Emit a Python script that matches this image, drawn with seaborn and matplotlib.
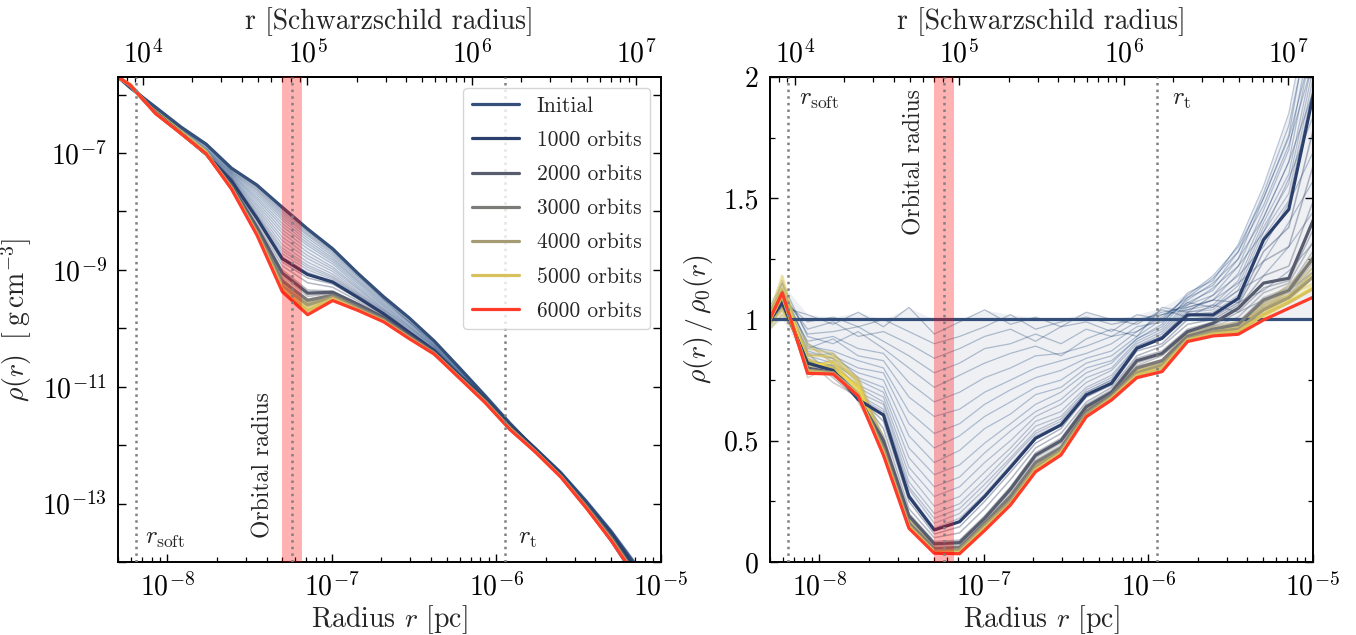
import numpy as np
import matplotlib
matplotlib.use("Agg")
import matplotlib.pyplot as plt
import matplotlib.ticker as mticker
import seaborn as sns

# ------------------------------
# style: LaTeX-like look with the bundled Computer Modern fonts
# ------------------------------
sns.set_style("ticks")
plt.rcParams['font.family'] = ['cmr10', 'DejaVu Serif']
plt.rcParams['mathtext.fontset'] = 'cm'
plt.rcParams['axes.formatter.use_mathtext'] = True
plt.rcParams['axes.unicode_minus'] = False
plt.rcParams['axes.linewidth'] = 1.4
plt.rcParams['axes.edgecolor'] = 'black'
plt.rcParams['xtick.color'] = 'black'
plt.rcParams['ytick.color'] = 'black'

# ------------------------------
# data
# ------------------------------
# radial bins [pc]
radius_pc = [4.17e-9, 5.94e-9, 8.47e-9, 1.21e-8, 1.72e-8, 2.45e-8, 3.50e-8,
             4.99e-8, 7.11e-8, 1.01e-7, 1.45e-7, 2.06e-7, 2.94e-7, 4.19e-7,
             5.97e-7, 8.51e-7, 1.21e-6, 1.73e-6, 2.47e-6, 3.52e-6, 5.01e-6,
             7.14e-6, 1.02e-5]

# initial density profile, log10(rho0 / g cm^-3)
log_rho0 = [-5.50, -5.885, -6.217, -6.557, -6.85, -7.26, -7.55, -7.93, -8.30,
            -8.64, -9.07, -9.46, -9.82, -10.22, -10.68, -11.15, -11.63, -12.08,
            -12.52, -13.05, -13.64, -14.30, -14.95]

# rho / rho0 for the highlighted snapshots
ratio_1000 = [0.92, 1.07, 0.82, 0.79, 0.67, 0.606, 0.27, 0.132, 0.166, 0.27, 0.39,
              0.51, 0.565, 0.689, 0.737, 0.881, 0.922, 1.019, 1.019, 1.087, 1.328,
              1.454, 1.946]
ratio_2000 = [0.91, 1.09, 0.80, 0.78, 0.68, 0.50, 0.19, 0.075, 0.08, 0.18, 0.30,
              0.44, 0.50, 0.64, 0.70, 0.83, 0.86, 0.95, 0.984, 1.046, 1.15, 1.17, 1.42]
ratio_3000 = [0.90, 1.10, 0.79, 0.78, 0.69, 0.47, 0.16, 0.055, 0.06, 0.16, 0.27,
              0.41, 0.47, 0.62, 0.69, 0.80, 0.83, 0.93, 0.96, 0.98, 1.08, 1.12, 1.26]
ratio_4000 = [0.90, 1.10, 0.79, 0.78, 0.69, 0.46, 0.15, 0.045, 0.05, 0.15, 0.25,
              0.39, 0.46, 0.61, 0.68, 0.78, 0.81, 0.92, 0.95, 0.96, 1.04, 1.09, 1.18]
ratio_5000 = [0.89, 1.10, 0.785, 0.775, 0.69, 0.45, 0.145, 0.04, 0.04, 0.14, 0.24,
              0.38, 0.45, 0.60, 0.675, 0.77, 0.80, 0.915, 0.94, 0.95, 1.02, 1.07, 1.13]
ratio_6000 = [0.89, 1.11, 0.778, 0.775, 0.685, 0.44, 0.139, 0.036, 0.034, 0.13, 0.235,
              0.372, 0.441, 0.599, 0.668, 0.76, 0.785, 0.909, 0.932, 0.939, 0.998,
              1.046, 1.094]

# faint intermediate snapshots (orbits, rho / rho0)
thin_orbits = [100, 150, 200, 250, 300, 350, 400, 450, 500, 550, 600, 650,
               700, 750, 800, 850, 900, 950,
               1200, 1500, 1800, 2200, 2500, 2800, 3200, 3500, 3800,
               4200, 4500, 4600, 4800, 5200, 5400, 5500, 5800, 5900]
thin_ratio = [
    [0.99, 1.05, 1.02, 0.98, 1.03, 0.97, 1.05, 0.94, 0.99, 1.04, 0.98, 1.01, 0.97, 1.03, 1.00, 0.98, 1.04, 1.01, 1.06, 1.03, 1.08, 1.12, 1.20],
    [0.98, 1.08, 0.99, 1.01, 0.97, 1.00, 0.95, 0.90, 0.93, 0.97, 1.02, 0.96, 0.99, 1.01, 0.98, 1.00, 1.02, 1.04, 1.08, 1.07, 1.12, 1.20, 1.32],
    [0.97, 1.10, 0.96, 0.99, 0.93, 0.95, 0.90, 0.84, 0.88, 0.93, 0.96, 0.91, 0.97, 0.99, 0.95, 1.02, 1.00, 1.07, 1.05, 1.12, 1.18, 1.30, 1.45],
    [0.96, 1.12, 0.94, 0.95, 0.97, 0.91, 0.85, 0.78, 0.82, 0.88, 0.90, 0.94, 0.90, 0.96, 0.93, 0.99, 1.03, 1.05, 1.08, 1.15, 1.24, 1.40, 1.58],
    [0.95, 1.15, 0.93, 0.90, 0.95, 0.88, 0.80, 0.72, 0.77, 0.82, 0.86, 0.89, 0.85, 0.92, 0.96, 0.93, 1.05, 1.03, 1.10, 1.18, 1.30, 1.48, 1.70],
    [0.95, 1.10, 0.91, 0.93, 0.88, 0.86, 0.74, 0.66, 0.70, 0.76, 0.80, 0.85, 0.86, 0.89, 0.93, 0.95, 1.02, 1.06, 1.13, 1.22, 1.36, 1.58, 1.85],
    [0.96, 1.08, 0.88, 0.92, 0.85, 0.83, 0.68, 0.60, 0.63, 0.70, 0.75, 0.80, 0.83, 0.86, 0.90, 0.97, 0.99, 1.08, 1.15, 1.25, 1.42, 1.65, 1.95],
    [0.94, 1.13, 0.89, 0.87, 0.83, 0.80, 0.62, 0.53, 0.57, 0.65, 0.71, 0.76, 0.79, 0.84, 0.87, 0.95, 1.01, 1.09, 1.17, 1.28, 1.47, 1.72, 2.08],
    [0.93, 1.12, 0.90, 0.85, 0.80, 0.78, 0.57, 0.47, 0.52, 0.60, 0.66, 0.72, 0.75, 0.82, 0.85, 0.93, 1.00, 1.10, 1.18, 1.30, 1.50, 1.75, 2.15],
    [0.93, 1.07, 0.87, 0.84, 0.78, 0.75, 0.52, 0.41, 0.46, 0.55, 0.61, 0.69, 0.72, 0.80, 0.83, 0.92, 0.98, 1.11, 1.16, 1.31, 1.55, 1.85, 2.40],
    [0.94, 1.06, 0.85, 0.86, 0.76, 0.72, 0.47, 0.36, 0.40, 0.49, 0.57, 0.65, 0.70, 0.78, 0.82, 0.92, 0.97, 1.09, 1.14, 1.28, 1.52, 1.80, 2.30],
    [0.93, 1.10, 0.85, 0.82, 0.75, 0.70, 0.43, 0.31, 0.35, 0.45, 0.54, 0.62, 0.67, 0.76, 0.80, 0.91, 0.96, 1.07, 1.12, 1.25, 1.50, 1.76, 2.35],
    [0.92, 1.09, 0.84, 0.80, 0.73, 0.68, 0.39, 0.27, 0.31, 0.41, 0.50, 0.60, 0.65, 0.74, 0.79, 0.90, 0.95, 1.06, 1.10, 1.22, 1.45, 1.70, 2.25],
    [0.92, 1.06, 0.83, 0.81, 0.72, 0.66, 0.36, 0.23, 0.27, 0.37, 0.47, 0.58, 0.62, 0.72, 0.77, 0.89, 0.94, 1.05, 1.08, 1.19, 1.42, 1.65, 2.18],
    [0.93, 1.07, 0.83, 0.81, 0.70, 0.65, 0.33, 0.20, 0.24, 0.34, 0.45, 0.56, 0.60, 0.71, 0.76, 0.89, 0.93, 1.04, 1.06, 1.16, 1.40, 1.60, 2.10],
    [0.92, 1.09, 0.82, 0.80, 0.69, 0.63, 0.31, 0.18, 0.22, 0.32, 0.43, 0.54, 0.59, 0.70, 0.75, 0.88, 0.93, 1.03, 1.05, 1.14, 1.38, 1.56, 2.06],
    [0.92, 1.08, 0.82, 0.80, 0.68, 0.62, 0.30, 0.16, 0.20, 0.30, 0.42, 0.53, 0.58, 0.70, 0.75, 0.88, 0.93, 1.03, 1.04, 1.12, 1.36, 1.52, 2.02],
    [0.92, 1.07, 0.82, 0.79, 0.67, 0.61, 0.28, 0.14, 0.18, 0.28, 0.40, 0.52, 0.57, 0.69, 0.74, 0.88, 0.92, 1.02, 1.03, 1.10, 1.34, 1.49, 1.98],
    [0.91, 1.06, 0.82, 0.80, 0.68, 0.58, 0.25, 0.115, 0.145, 0.25, 0.37, 0.49, 0.55, 0.68, 0.73, 0.87, 0.90, 1.00, 1.01, 1.07, 1.28, 1.38, 1.80],
    [0.91, 1.05, 0.83, 0.80, 0.69, 0.55, 0.22, 0.10, 0.12, 0.22, 0.34, 0.47, 0.53, 0.66, 0.72, 0.85, 0.89, 0.98, 1.00, 1.06, 1.24, 1.30, 1.65],
    [0.90, 1.10, 0.81, 0.79, 0.70, 0.52, 0.20, 0.085, 0.09, 0.19, 0.31, 0.45, 0.51, 0.65, 0.71, 0.84, 0.87, 0.96, 0.99, 1.05, 1.18, 1.22, 1.50],
    [0.91, 1.04, 0.84, 0.76, 0.67, 0.49, 0.18, 0.07, 0.075, 0.175, 0.29, 0.43, 0.49, 0.635, 0.70, 0.82, 0.855, 0.945, 0.975, 1.03, 1.13, 1.16, 1.38],
    [0.90, 1.12, 0.86, 0.77, 0.70, 0.48, 0.17, 0.065, 0.07, 0.17, 0.28, 0.42, 0.48, 0.63, 0.70, 0.81, 0.85, 0.94, 0.97, 1.01, 1.11, 1.15, 1.33],
    [0.89, 1.13, 0.78, 0.82, 0.72, 0.475, 0.165, 0.058, 0.063, 0.163, 0.275, 0.415, 0.475, 0.625, 0.695, 0.805, 0.835, 0.935, 0.962, 0.99, 1.09, 1.13, 1.29],
    [0.92, 1.07, 0.83, 0.74, 0.68, 0.468, 0.158, 0.052, 0.058, 0.158, 0.265, 0.405, 0.468, 0.618, 0.688, 0.795, 0.826, 0.928, 0.958, 0.975, 1.07, 1.11, 1.24],
    [0.89, 1.06, 0.81, 0.83, 0.66, 0.47, 0.155, 0.05, 0.055, 0.155, 0.26, 0.40, 0.465, 0.615, 0.685, 0.79, 0.82, 0.925, 0.955, 0.97, 1.06, 1.10, 1.22],
    [0.88, 1.15, 0.76, 0.81, 0.73, 0.462, 0.152, 0.047, 0.052, 0.152, 0.255, 0.392, 0.462, 0.612, 0.682, 0.785, 0.815, 0.921, 0.952, 0.965, 1.05, 1.095, 1.20],
    [0.93, 1.05, 0.86, 0.84, 0.74, 0.50, 0.17, 0.055, 0.06, 0.15, 0.26, 0.40, 0.47, 0.63, 0.70, 0.80, 0.83, 0.95, 0.97, 0.99, 1.07, 1.14, 1.25],
    [0.85, 1.16, 0.82, 0.80, 0.72, 0.47, 0.15, 0.048, 0.05, 0.16, 0.27, 0.39, 0.47, 0.62, 0.69, 0.78, 0.82, 0.93, 0.96, 0.97, 1.05, 1.10, 1.20],
    [0.94, 1.07, 0.90, 0.82, 0.76, 0.51, 0.175, 0.06, 0.055, 0.16, 0.26, 0.40, 0.47, 0.625, 0.69, 0.79, 0.82, 0.94, 0.96, 0.975, 1.06, 1.12, 1.27],
    [0.90, 1.02, 0.88, 0.86, 0.75, 0.49, 0.165, 0.05, 0.045, 0.15, 0.25, 0.39, 0.46, 0.62, 0.69, 0.79, 0.80, 0.93, 0.95, 0.98, 1.04, 1.12, 1.22],
    [0.87, 1.18, 0.80, 0.83, 0.71, 0.47, 0.16, 0.045, 0.042, 0.145, 0.25, 0.385, 0.455, 0.61, 0.68, 0.78, 0.81, 0.93, 0.95, 0.96, 1.03, 1.08, 1.18],
    [0.86, 1.10, 0.85, 0.85, 0.74, 0.48, 0.16, 0.05, 0.048, 0.15, 0.25, 0.39, 0.46, 0.615, 0.685, 0.785, 0.81, 0.925, 0.95, 0.965, 1.04, 1.09, 1.19],
    [0.92, 1.04, 0.84, 0.79, 0.73, 0.46, 0.155, 0.042, 0.04, 0.14, 0.245, 0.38, 0.45, 0.605, 0.675, 0.775, 0.80, 0.92, 0.945, 0.955, 1.02, 1.10, 1.15],
    [0.88, 1.13, 0.81, 0.82, 0.70, 0.455, 0.15, 0.04, 0.038, 0.137, 0.24, 0.378, 0.447, 0.603, 0.672, 0.77, 0.795, 0.915, 0.94, 0.95, 1.01, 1.07, 1.13],
    [0.91, 1.09, 0.83, 0.80, 0.72, 0.465, 0.152, 0.043, 0.04, 0.14, 0.243, 0.38, 0.45, 0.607, 0.676, 0.775, 0.80, 0.918, 0.942, 0.952, 1.015, 1.075, 1.14],
]

labels = ['Initial', '1000 orbits', '2000 orbits', '3000 orbits',
          '4000 orbits', '5000 orbits', '6000 orbits']
colors = ['#34507a', '#2b3f6c', '#575d6e', '#7c7b78', '#a59c74', '#d8c25e', '#ff3b2a']

r_soft = 6.4e-9      # softening length [pc]
r_tidal = 1.135e-6   # tidal radius [pc]
r_orb = 5.7e-8       # orbital radius [pc]
orb_band = (5.0e-8, 6.6e-8)
pc_to_rs = 1.41e12   # 1 pc in Schwarzschild radii
rs_ticks = [1e4, 1e5, 1e6, 1e7]

# ------------------------------
# derived quantities
# ------------------------------
r = np.array(radius_pc)
rho0 = 10.0 ** np.array(log_rho0)
ratio_init = rho0 / rho0
ratios = [ratio_init, ratio_1000, ratio_2000, ratio_3000, ratio_4000, ratio_5000, ratio_6000]
cmap = plt.get_cmap('cividis')


def pow10(v, pos):
    if v <= 0:
        return ''
    e = np.log10(v)
    if abs(e - round(e)) > 1e-6:
        return ''
    return r'$10^{%d}$' % int(round(e))


def pow10_odd(v, pos):
    s = pow10(v, pos)
    if s and int(round(np.log10(v))) % 2 == 0:
        return ''
    return s


def style_axis(ax):
    ax.set_xscale('log')
    ax.set_xlim(5e-9, 1e-5)
    ax.xaxis.set_major_locator(mticker.LogLocator(base=10, numticks=15))
    ax.xaxis.set_minor_locator(mticker.LogLocator(base=10, subs=np.arange(2, 10), numticks=15))
    ax.xaxis.set_major_formatter(mticker.FuncFormatter(pow10))
    ax.xaxis.set_minor_formatter(mticker.NullFormatter())
    ax.tick_params(which='both', direction='in', top=False, right=True, labelsize=20)
    ax.tick_params(which='major', length=6, width=1.0, pad=8)
    ax.tick_params(which='minor', length=3.5, width=0.9)
    ax.set_xlabel(r'Radius $r$ [pc]', fontsize=20, labelpad=1)

    sec = ax.secondary_xaxis('top', functions=(lambda x: x * pc_to_rs, lambda x: x / pc_to_rs))
    sec.xaxis.set_major_locator(mticker.FixedLocator(rs_ticks))
    sec.xaxis.set_minor_locator(mticker.LogLocator(base=10, subs=np.arange(2, 10), numticks=15))
    sec.xaxis.set_major_formatter(mticker.FuncFormatter(pow10))
    sec.xaxis.set_minor_formatter(mticker.NullFormatter())
    sec.tick_params(which='both', direction='in', labelsize=20)
    sec.tick_params(which='major', length=6, width=1.0, pad=6)
    sec.tick_params(which='minor', length=3.5, width=0.9)
    sec.set_xlabel('r [Schwarzschild radius]', fontsize=20, labelpad=8)

    ax.axvspan(*orb_band, color='red', alpha=0.3, lw=0, zorder=3)
    for xv in (r_soft, r_tidal, r_orb):
        ax.axvline(xv, color='grey', ls=':', lw=1.8, zorder=4)


def draw_profiles(ax, curves, thin_curves):
    # light band behind the early snapshots (envelope of the drawn curves)
    early = np.array([curves[0]] + [c for t, c in zip(thin_orbits, thin_curves) if t < 1000] + [curves[1]])
    ax.fill_between(r, early.min(axis=0), early.max(axis=0), color=cmap(0.12),
                    alpha=0.07, lw=0, zorder=1.5)
    for t, y in zip(thin_orbits, thin_curves):
        if t < 1000:
            a, w = 0.28, 0.9
        elif t < 4000:
            a, w = 0.4, 1.1
        else:
            a, w = 0.55, 1.7
        sns.lineplot(x=r, y=y, ax=ax, color=cmap(min(t / 6000, 0.97)), lw=w, alpha=a,
                     legend=False, estimator=None, sort=False, zorder=2)
    for y, c, lab in zip(curves, colors, labels):
        sns.lineplot(x=r, y=y, ax=ax, color=c, lw=2.3, label=lab,
                     legend=False, estimator=None, sort=False, zorder=2.5)


fig = plt.figure(figsize=(13.56, 6.35), dpi=100)
ax1 = fig.add_axes([0.087, 0.115, 0.4004, 0.7638])
ax2 = fig.add_axes([0.5678, 0.115, 0.4004, 0.7638])

# ---- left: density profiles ----
style_axis(ax1)
ax1.set_yscale('log')
ax1.set_ylim(1e-14, 2e-6)
ax1.yaxis.set_major_locator(mticker.LogLocator(base=10, numticks=20))
ax1.yaxis.set_minor_locator(mticker.NullLocator())
ax1.yaxis.set_major_formatter(mticker.FuncFormatter(pow10_odd))
draw_profiles(ax1, [rho0 * np.array(q) for q in ratios],
              [rho0 * np.array(q) for q in thin_ratio])
ax1.set_ylabel(r'$\rho(r)\;\;[\;\mathrm{g\,cm^{-3}}]$', fontsize=20, labelpad=6)

trans1 = ax1.get_xaxis_transform()
ax1.text(7.35e-9, 0.025, r'$r_{\rm soft}$', transform=trans1, fontsize=18, ha='left', va='bottom')
ax1.text(1.36e-6, 0.025, r'$r_{\rm t}$', transform=trans1, fontsize=18, ha='left', va='bottom')
ax1.text(4.45e-8, 0.05, 'Orbital radius', transform=trans1, fontsize=17,
         rotation=90, ha='right', va='bottom')

leg = ax1.legend(loc='upper right', fontsize=15.5, frameon=True, fancybox=True,
                 framealpha=0.8, edgecolor='#cccccc', borderaxespad=0.5,
                 handlelength=2.2, labelspacing=0.68)
for h in leg.get_lines():
    h.set_linewidth(2.3)

# ---- right: ratio to the initial profile ----
style_axis(ax2)
ax2.set_ylim(0, 2)
ax2.yaxis.set_major_locator(mticker.MultipleLocator(0.5))
ax2.yaxis.set_minor_locator(mticker.MultipleLocator(0.25))
ax2.yaxis.set_major_formatter(mticker.FuncFormatter(lambda v, p: '%g' % v))
draw_profiles(ax2, ratios, thin_ratio)
ax2.set_ylabel(r'$\rho(r)\,/\,\rho_0(r)$', fontsize=20, labelpad=6)

trans2 = ax2.get_xaxis_transform()
ax2.text(7.55e-9, 0.975, r'$r_{\rm soft}$', transform=trans2, fontsize=18, ha='left', va='top')
ax2.text(1.4e-6, 0.975, r'$r_{\rm t}$', transform=trans2, fontsize=18, ha='left', va='top')
ax2.text(4.43e-8, 0.975, 'Orbital radius', transform=trans2, fontsize=17,
         rotation=90, ha='right', va='top')

fig.savefig('out.png', dpi=100, facecolor='white')
